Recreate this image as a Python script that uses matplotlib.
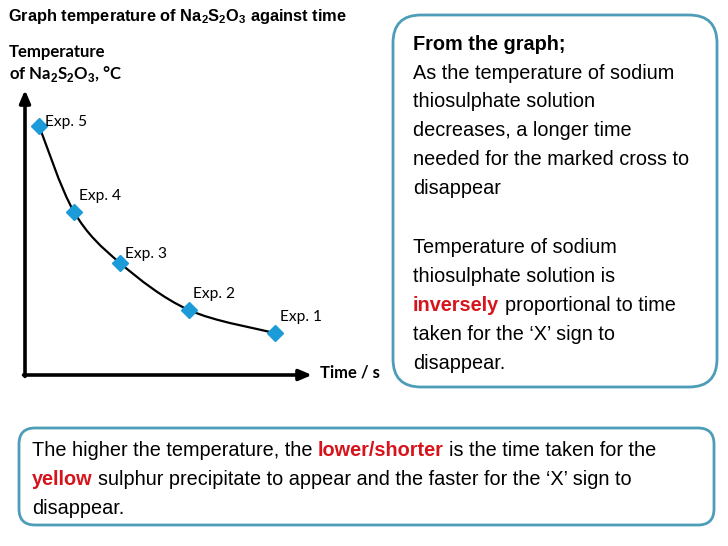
import matplotlib
matplotlib.use("Agg")
import matplotlib.pyplot as plt
from matplotlib.patches import FancyBboxPatch, PathPatch
from matplotlib.path import Path

# experiment readings (arbitrary units, no scale on the original graph)
experiments = ["Exp. 1", "Exp. 2", "Exp. 3", "Exp. 4", "Exp. 5"]
time_s = [87.1, 57.1, 33.1, 17.1, 4.9]
temperature_c = [14.7, 22.8, 39.3, 57.2, 87.4]

# label offsets from each marker, in pixels (x right, y up)
label_offsets = [(5, 16), (4, 16), (5, 9), (5, 16), (6, 4)]

NARROW = ["Liberation Sans", "DejaVu Sans"]
LABEL_FONT = ["Lato", "DejaVu Sans"]
BLUE = "#1B9CD8"
BORDER = "#4E9DB8"
RED = "#D7141C"

plt.rcParams["mathtext.fontset"] = "custom"
plt.rcParams["mathtext.rm"] = "Liberation Sans"
plt.rcParams["mathtext.bf"] = "Liberation Sans:bold"

fig = plt.figure(figsize=(7.28, 5.46), dpi=100)
fig.patch.set_facecolor("white")

# background axes in pixel units for text and boxes
bg = fig.add_axes([0, 0, 1, 1])
bg.set_xlim(0, 728)
bg.set_ylim(546, 0)
bg.axis("off")

renderer = fig.canvas.get_renderer()


def text_width(s, **kw):
    t = bg.text(0, 0, s, **kw)
    w = t.get_window_extent(renderer).width
    t.remove()
    return w


def rich_line(x, y, parts, size, family):
    """draw one line made of (text, color, weight) pieces, y is the baseline"""
    for i, (s, color, weight) in enumerate(parts):
        kw = dict(fontsize=size, family=family, fontweight=weight)
        t = bg.text(x, y, s, color=color, va="baseline", ha="left", **kw)
        x += t.get_window_extent(renderer).width
        if i < len(parts) - 1:
            x += text_width("x x", **kw) - text_width("xx", **kw)


# title
bg.text(8, 17, r"Graph temperature of Na$_\mathbf{2}$S$_\mathbf{2}$O$_\mathbf{3}$ against time",
        fontsize=11.8, family=NARROW, fontweight="bold", va="center", ha="left")

# axis labels
bg.text(9, 52, "Temperature", fontsize=12.1, family=LABEL_FONT, fontweight="bold",
        va="center", ha="left")
bg.text(9, 74, r"of Na$_\mathbf{2}$S$_\mathbf{2}$O$_\mathbf{3}$, °C", fontsize=12.1,
        family=LABEL_FONT, fontweight="bold", va="center", ha="left")
bg.text(320, 373, "Time / s", fontsize=12, family=LABEL_FONT, fontweight="bold",
        va="center", ha="left")

# right box
bg.add_patch(FancyBboxPatch((393, 15), 324, 372, boxstyle="round,pad=0,rounding_size=28",
                            fc="white", ec=BORDER, lw=2))
size_r = 14.35
rich_line(413, 50, [("From the graph;", "black", "bold")], size_r, NARROW)
right_lines = [
    (79, [("As the temperature of sodium", "black", "normal")]),
    (107, [("thiosulphate solution", "black", "normal")]),
    (136, [("decreases, a longer time", "black", "normal")]),
    (165, [("needed for the marked cross to", "black", "normal")]),
    (194, [("disappear", "black", "normal")]),
    (253, [("Temperature of sodium", "black", "normal")]),
    (282, [("thiosulphate solution is", "black", "normal")]),
    (311, [("inversely", RED, "bold"), ("proportional to time", "black", "normal")]),
    (340, [("taken for the \u2018X\u2019 sign to", "black", "normal")]),
    (369, [("disappear.", "black", "normal")]),
]
for y, parts in right_lines:
    rich_line(413, y, parts, size_r, NARROW)

# bottom box
bg.add_patch(FancyBboxPatch((19, 428), 695, 97, boxstyle="round,pad=0,rounding_size=16",
                            fc="white", ec=BORDER, lw=2))
bottom_lines = [
    (456, [("The higher the temperature, the", "black", "normal"),
           ("lower/shorter", RED, "bold"),
           ("is the time taken for the", "black", "normal")]),
    (485, [("yellow", RED, "bold"),
           ("sulphur precipitate to appear and the faster for the \u2018X\u2019 sign to", "black", "normal")]),
    (514, [("disappear.", "black", "normal")]),
]
for y, parts in bottom_lines:
    rich_line(32, y, parts, size_r, NARROW)

# graph axes
ax = fig.add_axes([25 / 728, (546 - 375) / 546, 287 / 728, 285 / 546])
ax.set_xlim(0, 100)
ax.set_ylim(0, 100)
ax.axis("off")

arrow = dict(arrowstyle="-|>,head_length=0.75,head_width=0.32", lw=2.6, color="black",
             shrinkA=0, shrinkB=0)
ax.annotate("", xy=(1, 0), xytext=(-0.005, 0), xycoords="axes fraction", arrowprops=arrow)
ax.annotate("", xy=(0, 1), xytext=(0, -0.005), xycoords="axes fraction", arrowprops=arrow)

# smooth curve through the points (Catmull-Rom as cubic Bezier)
pts = sorted(zip(time_s, temperature_c))
verts = [pts[0]]
codes = [Path.MOVETO]
n = len(pts)
for i in range(n - 1):
    p0 = pts[max(i - 1, 0)]
    p1 = pts[i]
    p2 = pts[i + 1]
    p3 = pts[min(i + 2, n - 1)]
    c1 = (p1[0] + (p2[0] - p0[0]) / 6, p1[1] + (p2[1] - p0[1]) / 6)
    c2 = (p2[0] - (p3[0] - p1[0]) / 6, p2[1] - (p3[1] - p1[1]) / 6)
    verts += [c1, c2, p2]
    codes += [Path.CURVE4] * 3
ax.add_patch(PathPatch(Path(verts, codes), fc="none", ec="black", lw=1.6, zorder=2))

ax.plot(time_s, temperature_c, ls="none", marker="D", ms=8.5, color=BLUE, mec=BLUE,
        zorder=3, clip_on=False)
for name, x, y, (dx, dy) in zip(experiments, time_s, temperature_c, label_offsets):
    ax.annotate(name, (x, y), xytext=(dx * 0.72, dy * 0.72), textcoords="offset points",
                fontsize=11.2, family=LABEL_FONT, va="center", ha="left")

fig.savefig("out.png", dpi=100)
